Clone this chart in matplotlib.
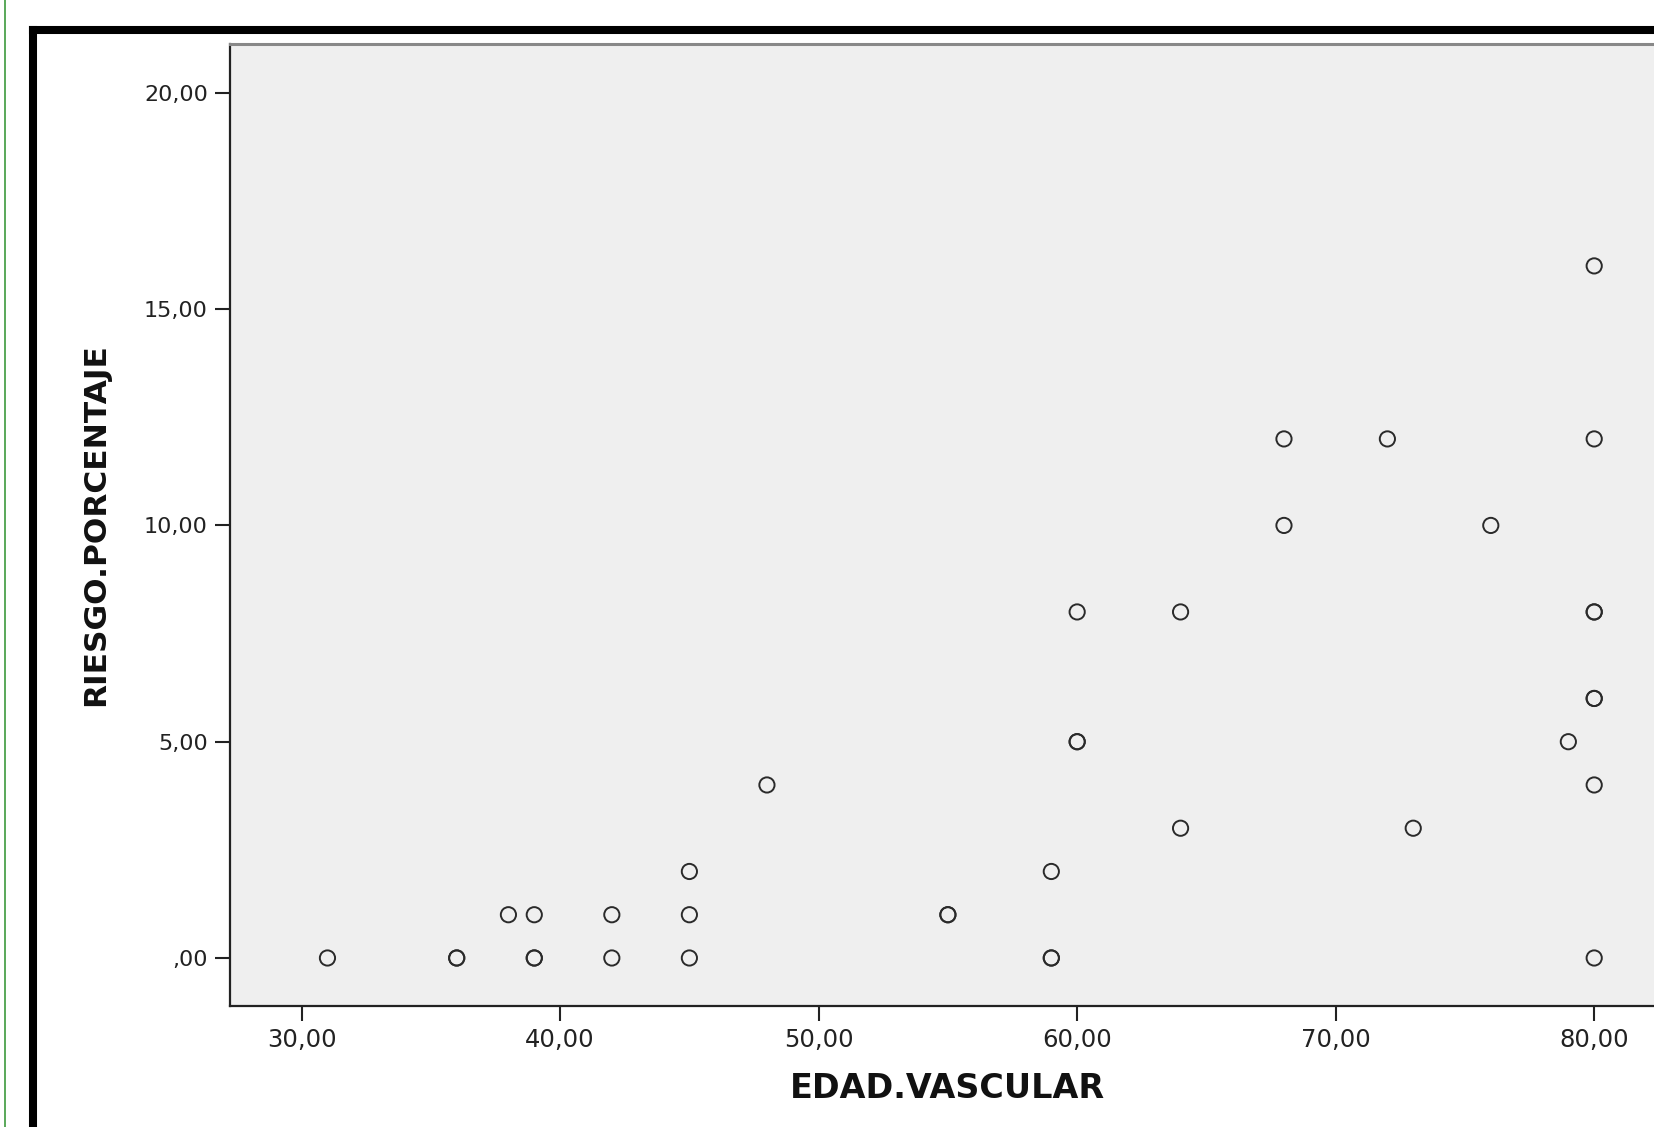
import numpy as np
import matplotlib
matplotlib.use("Agg")
import matplotlib.pyplot as plt
from matplotlib.lines import Line2D
from matplotlib.ticker import FuncFormatter

# datos (los puntos repetidos se dibujan más oscuros)
edad_vascular = [31, 36, 36, 39, 39, 42, 45, 59, 59, 80,
                 38, 39, 42, 45, 55, 55,
                 45, 59,
                 64, 73,
                 48, 80,
                 60, 60, 79,
                 80, 80, 80, 80,
                 60, 64,
                 68, 76,
                 68, 72, 80,
                 80]
riesgo_pct = [0, 0, 0, 0, 0, 0, 0, 0, 0, 0,
              1, 1, 1, 1, 1, 1,
              2, 2,
              3, 3,
              4, 4,
              5, 5, 5,
              6, 6, 8, 8,
              8, 8,
              10, 10,
              12, 12, 12,
              16]

x_ticks = [30, 40, 50, 60, 70, 80]
y_ticks = [0, 5, 10, 15, 20]

W, H = 1654, 1127
fig = plt.figure(figsize=(W / 100, H / 100), dpi=100)

# Eje (se sale por la derecha, como en la captura)
ax = fig.add_axes([230 / W, 1 - 1006 / H, 1434 / W, 962 / H])
ax.set_facecolor("#efefef")
ax.scatter(edad_vascular, riesgo_pct, s=120, facecolors="none",
           edgecolors="#2a2a2a", linewidths=1.4, zorder=3, clip_on=False)

ax.set_xlim(27.23, 82.70)
ax.set_ylim(-1.11, 21.13)
ax.set_xticks(x_ticks)
ax.set_yticks(y_ticks)


def coma(v, pos):
    s = f"{v:.2f}".replace(".", ",")
    return s[1:] if s.startswith("0,") else s


ax.xaxis.set_major_formatter(FuncFormatter(coma))
ax.yaxis.set_major_formatter(FuncFormatter(coma))
ax.tick_params(direction="out", length=11, width=1.5, color="#222222",
               labelcolor="#222222")
ax.tick_params(axis="x", labelsize=17.5, pad=5)
ax.tick_params(axis="y", labelsize=16, pad=5)

for s in ["left", "bottom"]:
    ax.spines[s].set_color("#222222")
    ax.spines[s].set_linewidth(1.6)
ax.spines["top"].set_color("#888888")
ax.spines["top"].set_linewidth(2.2)
ax.spines["right"].set_visible(False)

ax.set_xlabel("EDAD.VASCULAR", fontsize=24, fontweight="bold", color="#111111")
ax.set_ylabel("RIESGO.PORCENTAJE", fontsize=22.5, fontweight="bold", color="#111111")
ax.xaxis.label.set_verticalalignment("center")
ax.yaxis.label.set_verticalalignment("center")
ax.xaxis.set_label_coords(0.5, (1006 - 1089) / 962)
ax.yaxis.set_label_coords((96 - 230) / 1434, 0.5)

# marco negro y línea verde de la captura
fig.add_artist(Line2D([33 / W, 33 / W], [0, 1 - 30 / H], color="black",
                      lw=5.8, transform=fig.transFigure, solid_capstyle="projecting"))
fig.add_artist(Line2D([33 / W, 1], [1 - 30 / H, 1 - 30 / H], color="black",
                      lw=5.8, transform=fig.transFigure, solid_capstyle="projecting"))
fig.add_artist(Line2D([4.5 / W, 4.5 / W], [0, 1], color="#3d9a3d",
                      lw=1.2, transform=fig.transFigure))

fig.savefig("out.png", dpi=100)
